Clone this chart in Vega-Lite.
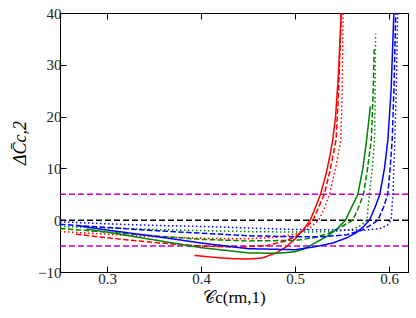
{
  "$schema": "https://vega.github.io/schema/vega-lite/v6.json",
  "width": 348,
  "height": 259,
  "autosize": {"type": "none"},
  "padding": {"left": 60, "top": 13, "right": 8, "bottom": 46},
  "config": {
    "view": {"stroke": "black", "strokeWidth": 1},
    "font": "Liberation Serif",
    "axis": {"grid": false, "domainColor": "black", "tickColor": "black", "tickWidth": 1, "labelColor": "#222", "labelFont": "Liberation Serif", "titleFont": "Liberation Serif", "labelFontSize": 15, "titleFontSize": 17, "titleFontWeight": "normal", "tickSize": -6, "labelPadding": 5}
  },
  "datasets": {
    "curves": [
      {"s": "r-solid", "x": 0.393, "y": -6.8}, {"s": "r-solid", "x": 0.41, "y": -7.1}, {"s": "r-solid", "x": 0.43, "y": -7.4}, {"s": "r-solid", "x": 0.45, "y": -7.5}, {"s": "r-solid", "x": 0.465, "y": -7.3}, {"s": "r-solid", "x": 0.48, "y": -6.3}, {"s": "r-solid", "x": 0.49, "y": -5.2}, {"s": "r-solid", "x": 0.5, "y": -3.6}, {"s": "r-solid", "x": 0.508, "y": -2.0}, {"s": "r-solid", "x": 0.516, "y": 0}, {"s": "r-solid", "x": 0.521, "y": 2.2}, {"s": "r-solid", "x": 0.527, "y": 5}, {"s": "r-solid", "x": 0.533, "y": 9}, {"s": "r-solid", "x": 0.537, "y": 12.5}, {"s": "r-solid", "x": 0.54, "y": 15.5}, {"s": "r-solid", "x": 0.543, "y": 20}, {"s": "r-solid", "x": 0.546, "y": 28}, {"s": "r-solid", "x": 0.549, "y": 40},
      {"s": "r-dash", "x": 0.267, "y": -2.7}, {"s": "r-dash", "x": 0.3, "y": -3.4}, {"s": "r-dash", "x": 0.35, "y": -4.3}, {"s": "r-dash", "x": 0.4, "y": -5.0}, {"s": "r-dash", "x": 0.44, "y": -5.2}, {"s": "r-dash", "x": 0.47, "y": -4.9}, {"s": "r-dash", "x": 0.49, "y": -4.0}, {"s": "r-dash", "x": 0.5, "y": -3.2}, {"s": "r-dash", "x": 0.51, "y": -1.8}, {"s": "r-dash", "x": 0.519, "y": 0}, {"s": "r-dash", "x": 0.525, "y": 2.5}, {"s": "r-dash", "x": 0.531, "y": 5}, {"s": "r-dash", "x": 0.537, "y": 9.5}, {"s": "r-dash", "x": 0.5435, "y": 15.5}, {"s": "r-dash", "x": 0.546, "y": 24}, {"s": "r-dash", "x": 0.549, "y": 40},
      {"s": "r-dot", "x": 0.25, "y": -2.2}, {"s": "r-dot", "x": 0.3, "y": -2.7}, {"s": "r-dot", "x": 0.35, "y": -3.2}, {"s": "r-dot", "x": 0.4, "y": -3.5}, {"s": "r-dot", "x": 0.45, "y": -3.6}, {"s": "r-dot", "x": 0.48, "y": -3.3}, {"s": "r-dot", "x": 0.5, "y": -2.7}, {"s": "r-dot", "x": 0.515, "y": -1.6}, {"s": "r-dot", "x": 0.525, "y": 0}, {"s": "r-dot", "x": 0.531, "y": 2.2}, {"s": "r-dot", "x": 0.5365, "y": 5}, {"s": "r-dot", "x": 0.543, "y": 10}, {"s": "r-dot", "x": 0.5486, "y": 15.5}, {"s": "r-dot", "x": 0.55, "y": 25}, {"s": "r-dot", "x": 0.551, "y": 40},
      {"s": "g-solid", "x": 0.278, "y": -1.7}, {"s": "g-solid", "x": 0.3, "y": -2.3}, {"s": "g-solid", "x": 0.35, "y": -3.8}, {"s": "g-solid", "x": 0.4, "y": -5.3}, {"s": "g-solid", "x": 0.45, "y": -6.3}, {"s": "g-solid", "x": 0.48, "y": -6.4}, {"s": "g-solid", "x": 0.5, "y": -6.1}, {"s": "g-solid", "x": 0.51, "y": -5.5}, {"s": "g-solid", "x": 0.522, "y": -4.3}, {"s": "g-solid", "x": 0.535, "y": -3.0}, {"s": "g-solid", "x": 0.545, "y": -1.6}, {"s": "g-solid", "x": 0.5535, "y": 0}, {"s": "g-solid", "x": 0.56, "y": 2.5}, {"s": "g-solid", "x": 0.5667, "y": 5}, {"s": "g-solid", "x": 0.572, "y": 10}, {"s": "g-solid", "x": 0.576, "y": 15.5}, {"s": "g-solid", "x": 0.58, "y": 22},
      {"s": "g-dash", "x": 0.25, "y": -1.6}, {"s": "g-dash", "x": 0.3, "y": -2.3}, {"s": "g-dash", "x": 0.35, "y": -3.0}, {"s": "g-dash", "x": 0.4, "y": -3.7}, {"s": "g-dash", "x": 0.45, "y": -4.0}, {"s": "g-dash", "x": 0.5, "y": -3.9}, {"s": "g-dash", "x": 0.52, "y": -3.4}, {"s": "g-dash", "x": 0.535, "y": -2.6}, {"s": "g-dash", "x": 0.548, "y": -1.4}, {"s": "g-dash", "x": 0.5613, "y": 0}, {"s": "g-dash", "x": 0.567, "y": 2.3}, {"s": "g-dash", "x": 0.5727, "y": 5}, {"s": "g-dash", "x": 0.577, "y": 10}, {"s": "g-dash", "x": 0.581, "y": 15.5}, {"s": "g-dash", "x": 0.583, "y": 25}, {"s": "g-dash", "x": 0.584, "y": 33},
      {"s": "g-dot", "x": 0.25, "y": -1.2}, {"s": "g-dot", "x": 0.3, "y": -1.5}, {"s": "g-dot", "x": 0.35, "y": -1.8}, {"s": "g-dot", "x": 0.4, "y": -2.0}, {"s": "g-dot", "x": 0.45, "y": -2.2}, {"s": "g-dot", "x": 0.5, "y": -2.3}, {"s": "g-dot", "x": 0.54, "y": -2.2}, {"s": "g-dot", "x": 0.56, "y": -1.8}, {"s": "g-dot", "x": 0.57, "y": -1.0}, {"s": "g-dot", "x": 0.5762, "y": 0}, {"s": "g-dot", "x": 0.579, "y": 5}, {"s": "g-dot", "x": 0.582, "y": 10}, {"s": "g-dot", "x": 0.5844, "y": 15.5}, {"s": "g-dot", "x": 0.585, "y": 25}, {"s": "g-dot", "x": 0.5855, "y": 36},
      {"s": "b-solid", "x": 0.267, "y": -1.0}, {"s": "b-solid", "x": 0.3, "y": -1.9}, {"s": "b-solid", "x": 0.35, "y": -3.1}, {"s": "b-solid", "x": 0.4, "y": -4.4}, {"s": "b-solid", "x": 0.45, "y": -5.5}, {"s": "b-solid", "x": 0.5, "y": -5.7}, {"s": "b-solid", "x": 0.522, "y": -5.1}, {"s": "b-solid", "x": 0.54, "y": -4.4}, {"s": "b-solid", "x": 0.555, "y": -3.4}, {"s": "b-solid", "x": 0.565, "y": -2.4}, {"s": "b-solid", "x": 0.573, "y": -1.2}, {"s": "b-solid", "x": 0.579, "y": 0}, {"s": "b-solid", "x": 0.585, "y": 2.5}, {"s": "b-solid", "x": 0.59, "y": 5}, {"s": "b-solid", "x": 0.595, "y": 10}, {"s": "b-solid", "x": 0.5986, "y": 15.5}, {"s": "b-solid", "x": 0.602, "y": 25}, {"s": "b-solid", "x": 0.605, "y": 40},
      {"s": "b-dash", "x": 0.25, "y": -0.8}, {"s": "b-dash", "x": 0.3, "y": -1.4}, {"s": "b-dash", "x": 0.35, "y": -2.0}, {"s": "b-dash", "x": 0.4, "y": -2.5}, {"s": "b-dash", "x": 0.45, "y": -3.0}, {"s": "b-dash", "x": 0.5, "y": -3.2}, {"s": "b-dash", "x": 0.53, "y": -3.2}, {"s": "b-dash", "x": 0.555, "y": -2.8}, {"s": "b-dash", "x": 0.57, "y": -2.0}, {"s": "b-dash", "x": 0.58, "y": -1.0}, {"s": "b-dash", "x": 0.588, "y": 0}, {"s": "b-dash", "x": 0.594, "y": 2.5}, {"s": "b-dash", "x": 0.5985, "y": 5}, {"s": "b-dash", "x": 0.601, "y": 10}, {"s": "b-dash", "x": 0.6032, "y": 15.5}, {"s": "b-dash", "x": 0.605, "y": 25}, {"s": "b-dash", "x": 0.607, "y": 40},
      {"s": "b-dot", "x": 0.25, "y": -0.3}, {"s": "b-dot", "x": 0.3, "y": -0.7}, {"s": "b-dot", "x": 0.35, "y": -1.0}, {"s": "b-dot", "x": 0.4, "y": -1.2}, {"s": "b-dot", "x": 0.45, "y": -1.5}, {"s": "b-dot", "x": 0.5, "y": -1.8}, {"s": "b-dot", "x": 0.55, "y": -1.9}, {"s": "b-dot", "x": 0.575, "y": -1.9}, {"s": "b-dot", "x": 0.59, "y": -1.6}, {"s": "b-dot", "x": 0.598, "y": -1.0}, {"s": "b-dot", "x": 0.602, "y": 0}, {"s": "b-dot", "x": 0.604, "y": 5}, {"s": "b-dot", "x": 0.606, "y": 15.5}, {"s": "b-dot", "x": 0.6075, "y": 25}, {"s": "b-dot", "x": 0.609, "y": 40}
    ],
    "refs": [
      {"y": 5, "kind": "m"}, {"y": -5, "kind": "m"}, {"y": 0, "kind": "k"}
    ]
  },
  "layer": [
    {
      "data": {"name": "refs"},
      "mark": {"type": "rule", "strokeWidth": 1.5, "strokeDash": [6, 3]},
      "encoding": {
        "y": {"field": "y", "type": "quantitative", "scale": {"domain": [-10, 40], "nice": false, "zero": false}, "axis": {"orient": "left", "values": [-10, 0, 10, 20, 30, 40], "title": "ΔC̄c,2", "titleFontStyle": "italic", "titlePadding": 8, "titleFontSize": 18}},
        "color": {"field": "kind", "type": "nominal", "scale": {"domain": ["m", "k"], "range": ["#bf00bf", "#000000"]}, "legend": null}
      }
    },
    {
      "data": {"name": "curves"},
      "mark": {"type": "line", "strokeWidth": 1.5, "clip": true},
      "encoding": {
        "x": {"field": "x", "type": "quantitative", "scale": {"domain": [0.25, 0.62], "nice": false, "zero": false}, "axis": {"orient": "bottom", "values": [0.3, 0.4, 0.5, 0.6], "format": ".1f", "title": "𝒞c(rm,1)", "titlePadding": 3, "titleFontSize": 17}},
        "y": {"field": "y", "type": "quantitative", "axis": null},
        "detail": {"field": "s"},
        "stroke": {"field": "s", "type": "nominal", "scale": {"domain": ["r-solid", "r-dash", "r-dot", "g-solid", "g-dash", "g-dot", "b-solid", "b-dash", "b-dot"], "range": ["#ff0000", "#ff0000", "#ff0000", "#008000", "#008000", "#008000", "#0000ff", "#0000ff", "#0000ff"]}, "legend": null},
        "strokeDash": {"field": "s", "type": "nominal", "scale": {"domain": ["r-solid", "r-dash", "r-dot", "g-solid", "g-dash", "g-dot", "b-solid", "b-dash", "b-dot"], "range": [[1, 0], [5.5, 2.4], [1.5, 2.5], [1, 0], [5.5, 2.4], [1.5, 2.5], [1, 0], [5.5, 2.4], [1.5, 2.5]]}, "legend": null}
      }
    },
    {
      "data": {"values": [{"x": 0.3, "y": 0}]},
      "mark": {"type": "point", "opacity": 0},
      "encoding": {
        "x": {"field": "x", "type": "quantitative", "axis": {"orient": "top", "values": [0.3, 0.4, 0.5, 0.6], "labels": false, "title": null, "domain": false}},
        "y": {"field": "y", "type": "quantitative", "axis": {"orient": "right", "values": [-10, 0, 10, 20, 30, 40], "labels": false, "title": null, "domain": false}}
      }
    }
  ],
  "resolve": {"axis": {"x": "independent", "y": "independent"}}
}
